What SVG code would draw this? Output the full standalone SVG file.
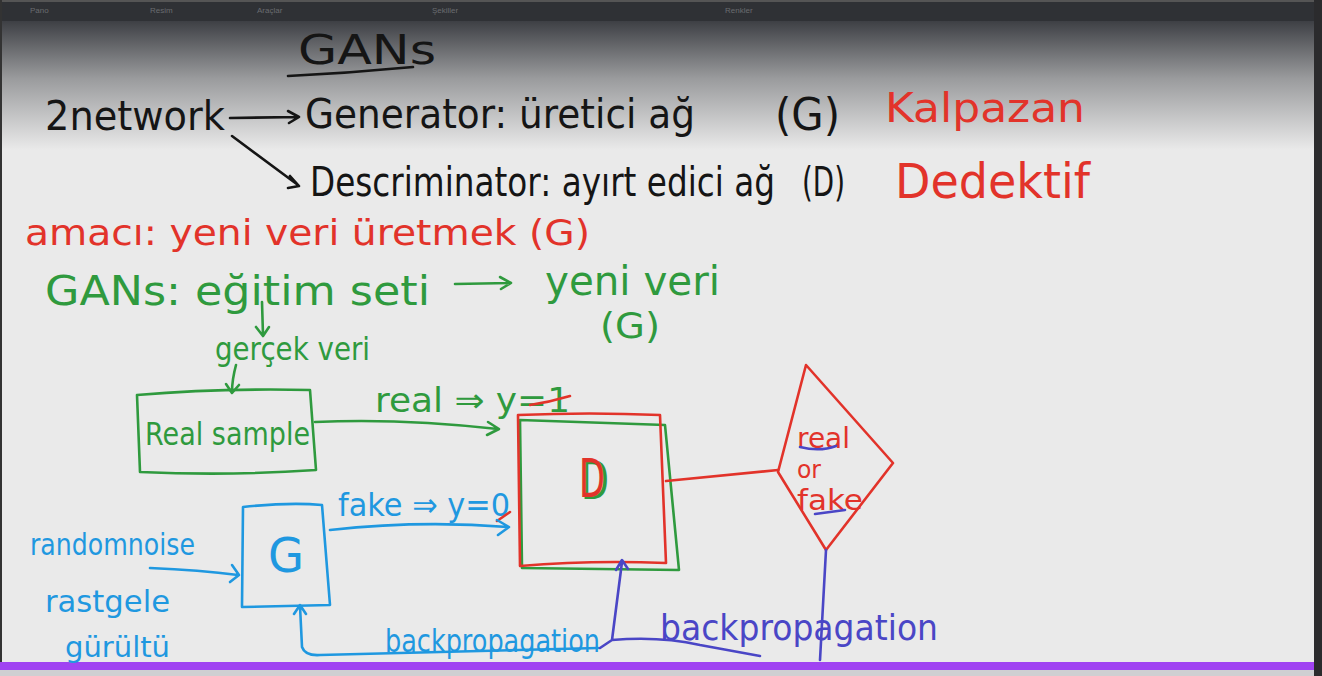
<svg xmlns="http://www.w3.org/2000/svg" width="1322" height="676" viewBox="0 0 1322 676">
<defs>
<linearGradient id="bg" x1="0" y1="0" x2="0" y2="1">
<stop offset="0" stop-color="#3c3e43"/>
<stop offset="0.45" stop-color="#9a9b9d"/>
<stop offset="1" stop-color="#eaeaea"/>
</linearGradient>
<style>
.t{font-family:"DejaVu Sans","Liberation Sans",sans-serif;font-weight:normal}
.k{fill:#151515}.r{fill:#e2332a}.g{fill:#2f9a3e}.b{fill:#1f98e0}.p{fill:#4a46c6}
.s{fill:none;stroke-width:2.6;stroke-linecap:round;stroke-linejoin:round}
.sk{stroke:#151515}.sr{stroke:#e2332a}.sg{stroke:#2f9a3e}.sb{stroke:#1f98e0}.sp{stroke:#4a46c6}
.m{font-family:"Liberation Sans",sans-serif;font-size:8px;fill:#6a6c70}
</style>
</defs>
<rect width="1322" height="676" fill="#eaeaea"/>
<rect x="0" y="20" width="1322" height="130" fill="url(#bg)"/>
<rect x="0" y="0" width="1322" height="21" fill="#2f3135"/>
<rect x="0" y="0" width="1322" height="2" fill="#555"/>
<text class="m" x="30" y="13">Pano</text>
<text class="m" x="150" y="13">Resim</text>
<text class="m" x="257" y="13">Araçlar</text>
<text class="m" x="432" y="13">Şekiller</text>
<text class="m" x="725" y="13">Renkler</text>
<rect x="0" y="0" width="2" height="676" fill="#333"/>
<rect x="1314" y="0" width="8" height="676" fill="#2b2b2d"/>
<rect x="0" y="662" width="1314" height="8" fill="#a043f2"/>
<rect x="0" y="670" width="1314" height="6" fill="#cfcfd2"/>

<g id="texts">
<text class="t k" x="298" y="64" font-size="40" textLength="138" lengthAdjust="spacingAndGlyphs">GANs</text>
<path class="s sk" d="M288,76 Q350,73 413,67"/>
<text class="t k" x="45" y="130" font-size="40" textLength="180" lengthAdjust="spacingAndGlyphs">2network</text>
<text class="t k" x="305" y="128" font-size="40" textLength="390" lengthAdjust="spacingAndGlyphs">Generator: üretici ağ</text>
<text class="t k" x="775" y="130" font-size="44" textLength="65" lengthAdjust="spacingAndGlyphs">(G)</text>
<text class="t r" x="885" y="122" font-size="40" textLength="200" lengthAdjust="spacingAndGlyphs">Kalpazan</text>
<text class="t k" x="310" y="196" font-size="40" textLength="465" lengthAdjust="spacingAndGlyphs">Descriminator: ayırt edici ağ</text>
<text class="t k" x="802" y="196" font-size="40" textLength="43" lengthAdjust="spacingAndGlyphs">(D)</text>
<text class="t r" x="895" y="198" font-size="48" textLength="195" lengthAdjust="spacingAndGlyphs">Dedektif</text>
<text class="t r" x="25" y="245" font-size="36" textLength="565" lengthAdjust="spacingAndGlyphs">amacı: yeni veri üretmek (G)</text>
<text class="t g" x="45" y="305" font-size="40" textLength="385" lengthAdjust="spacingAndGlyphs">GANs: eğitim seti</text>
<text class="t g" x="545" y="295" font-size="40" textLength="175" lengthAdjust="spacingAndGlyphs">yeni veri</text>
<text class="t g" x="600" y="338" font-size="36" textLength="60" lengthAdjust="spacingAndGlyphs">(G)</text>
<text class="t g" x="215" y="360" font-size="32" textLength="155" lengthAdjust="spacingAndGlyphs">gerçek veri</text>
<text class="t g" x="375" y="412" font-size="34" textLength="195" lengthAdjust="spacingAndGlyphs">real ⇒ y=1</text>
<path class="s sr" d="M530,405 Q550,402 570,396"/>
<text class="t b" x="338" y="516" font-size="32" textLength="172" lengthAdjust="spacingAndGlyphs">fake ⇒ y=0</text>
<path class="s sr" d="M497,521 L510,512"/>
<text class="t b" x="30" y="555" font-size="30" textLength="165" lengthAdjust="spacingAndGlyphs">randomnoise</text>
<text class="t b" x="45" y="612" font-size="30" textLength="125" lengthAdjust="spacingAndGlyphs">rastgele</text>
<text class="t b" x="65" y="657" font-size="28" textLength="105" lengthAdjust="spacingAndGlyphs">gürültü</text>
<text class="t b" x="385" y="652" font-size="32" textLength="215" lengthAdjust="spacingAndGlyphs">backpropagation</text>
<text class="t p" x="660" y="640" font-size="36" textLength="278" lengthAdjust="spacingAndGlyphs">backpropagation</text>
</g>

<g id="node-real-sample">
<path class="s sg" d="M137,395 Q220,388 310,390 L316,470 Q230,476 140,472 Z"/>
<text class="t g" x="145" y="445" font-size="32" textLength="165" lengthAdjust="spacingAndGlyphs">Real sample</text>
</g>

<g id="node-D">
<path class="s sg" d="M520,420 L665,425 L679,570 L522,568 Z"/>
<path class="s sr" d="M518,415 Q590,412 660,415 L666,563 Q590,560 520,566 Z"/>
<text class="t g" x="581" y="499" font-size="54" textLength="28" lengthAdjust="spacingAndGlyphs">D</text>
<text class="t r" x="579" y="497" font-size="54" textLength="26" lengthAdjust="spacingAndGlyphs">D</text>
</g>

<g id="node-decision">
<path class="s sr" d="M778,472 L806,365 L893,463 L826,550 Z"/>
<text class="t r" x="797" y="448" font-size="28" textLength="53" lengthAdjust="spacingAndGlyphs">real</text>
<text class="t r" x="797" y="478" font-size="24" textLength="24" lengthAdjust="spacingAndGlyphs">or</text>
<text class="t r" x="797" y="510" font-size="28" textLength="66" lengthAdjust="spacingAndGlyphs">fake</text>
<path class="s sp" d="M800,447 Q820,452 836,446"/>
<path class="s sp" d="M815,514 L845,510"/>
</g>

<g id="node-G">
<path class="s sb" d="M243,507 Q290,502 322,505 L330,605 L242,607 Z"/>
<text class="t b" x="268" y="572" font-size="48" textLength="36" lengthAdjust="spacingAndGlyphs">G</text>
</g>

<g id="connectors">
<path class="s sk" d="M230,118 L298,117 M288,111 L299,117 L289,123"/>
<path class="s sk" d="M232,136 L298,185 M290,176 L299,186 L288,188"/>
<path class="s sg" d="M455,284 L510,283 M500,277 L511,283 L501,289"/>
<path class="s sg" d="M262,302 L263,335 M256,327 L263,336 L269,327"/>
<path class="s sg" d="M236,365 Q232,380 232,392 M226,384 L232,393 L239,385"/>
<path class="s sg" d="M315,422 Q400,418 498,429 M488,422 L499,429 L487,435"/>
<path class="s sb" d="M330,530 Q420,520 508,527 M497,520 L509,527 L498,535"/>
<path class="s sb" d="M150,568 Q200,570 238,575 M232,565 L239,575 L230,582"/>
<path class="s sb" d="M598,648 L320,655 Q305,656 302,647 L300,606 M294,614 L300,605 L306,614"/>
<path class="s sr" d="M666,481 L778,470"/>
<path class="s sp" d="M826,550 L820,660"/>
<path class="s sp" d="M600,648 L612,640 L622,562 M616,570 L622,560 L628,569 M612,640 Q660,636 700,645 L760,656"/>
</g>
</svg>
